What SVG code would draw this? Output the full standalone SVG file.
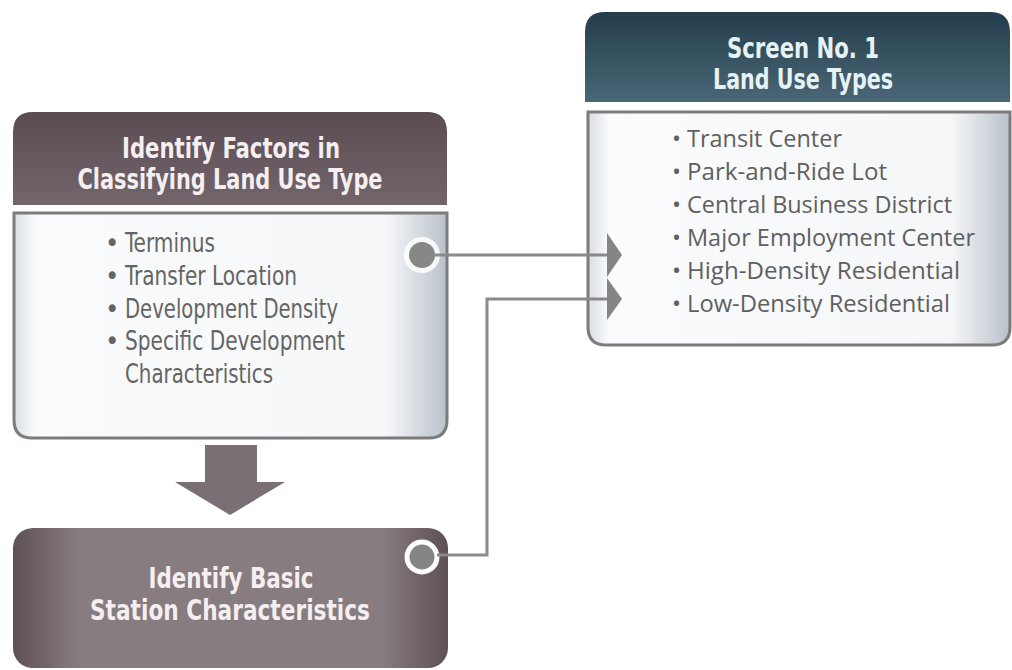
<svg xmlns="http://www.w3.org/2000/svg" width="1012" height="670" viewBox="0 0 1012 670">
  <defs>
    <linearGradient id="plumHead" x1="0" y1="0" x2="0" y2="1">
      <stop offset="0" stop-color="#5a4c52"/>
      <stop offset="1" stop-color="#72656b"/>
    </linearGradient>
    <linearGradient id="slateHead" x1="0" y1="0" x2="0" y2="1">
      <stop offset="0" stop-color="#243d4b"/>
      <stop offset="1" stop-color="#4a6777"/>
    </linearGradient>
    <linearGradient id="bodyFill" x1="0" y1="0" x2="1" y2="0">
      <stop offset="0" stop-color="#d9dee4"/>
      <stop offset="0.05" stop-color="#fafbfc"/>
      <stop offset="0.86" stop-color="#f6f7f9"/>
      <stop offset="1" stop-color="#b9c1ca"/>
    </linearGradient>
    <linearGradient id="plumBar" x1="0" y1="0" x2="1" y2="0">
      <stop offset="0" stop-color="#5d5056"/>
      <stop offset="0.15" stop-color="#877c80"/>
      <stop offset="0.85" stop-color="#877c80"/>
      <stop offset="1" stop-color="#5d5056"/>
    </linearGradient>
    <style>
      .head { font-family: 'Liberation Sans Narrow', 'DejaVu Sans Condensed', 'Liberation Sans', sans-serif; font-weight: bold; font-size: 28px; text-anchor: middle; }
      .plumText { fill: #f5eff1; }
      .slateText { fill: #e6f2f5; }
      .item { font-family: 'Liberation Sans Narrow', 'DejaVu Sans Condensed', 'Liberation Sans', sans-serif; font-size: 27px; fill: #646464; }
      .item2 { font-family: 'Open Sans', 'Noto Sans', 'Liberation Sans', sans-serif; font-size: 24px; fill: #5f5f5f; }
      .bodyBox { fill: url(#bodyFill); stroke: #7c7c7c; stroke-width: 3; }
      .wire { fill: none; stroke: #8a8a8a; stroke-width: 3; }
      .tip { fill: #858585; }
    </style>
  </defs>

  <!-- Factors box -->
  <g id="factors">
    <path d="M13,205 V132 Q13,112 33,112 H427 Q447,112 447,132 V205 Z" fill="url(#plumHead)"/>
    <text class="head plumText" x="231" y="158" textLength="218" lengthAdjust="spacingAndGlyphs">Identify Factors in</text>
    <text class="head plumText" x="230" y="189" textLength="305" lengthAdjust="spacingAndGlyphs">Classifying Land Use Type</text>
    <path class="bodyBox" d="M14,213 H447 V420 Q447,438 429,438 H32 Q14,438 14,420 Z"/>
    <text class="item" x="105" y="252">•</text>
    <text class="item" x="125" y="252" textLength="90" lengthAdjust="spacingAndGlyphs">Terminus</text>
    <text class="item" x="105" y="285">•</text>
    <text class="item" x="125" y="285" textLength="172" lengthAdjust="spacingAndGlyphs">Transfer Location</text>
    <text class="item" x="105" y="318">•</text>
    <text class="item" x="125" y="318" textLength="213" lengthAdjust="spacingAndGlyphs">Development Density</text>
    <text class="item" x="105" y="350">•</text>
    <text class="item" x="125" y="350" textLength="220" lengthAdjust="spacingAndGlyphs">Specific Development</text>
    <text class="item" x="125" y="383" textLength="148" lengthAdjust="spacingAndGlyphs">Characteristics</text>
    <circle cx="422" cy="255" r="18" fill="#ffffff" opacity="0.85"/>
    <circle cx="422" cy="255" r="13" fill="#878787"/>
  </g>

  <!-- Land use types box -->
  <g id="landUseTypes">
    <path d="M585,102 V32 Q585,12 605,12 H990 Q1010,12 1010,32 V102 Z" fill="url(#slateHead)"/>
    <text class="head slateText" x="803" y="58" textLength="152" lengthAdjust="spacingAndGlyphs">Screen No. 1</text>
    <text class="head slateText" x="803" y="89" textLength="180" lengthAdjust="spacingAndGlyphs">Land Use Types</text>
    <path class="bodyBox" d="M588,112 H1010 V327 Q1010,345 992,345 H606 Q588,345 588,327 Z"/>
    <text class="item2" x="672" y="147">•</text>
    <text class="item2" x="687" y="147" textLength="155" lengthAdjust="spacingAndGlyphs">Transit Center</text>
    <text class="item2" x="672" y="180">•</text>
    <text class="item2" x="687" y="180" textLength="200" lengthAdjust="spacingAndGlyphs">Park-and-Ride Lot</text>
    <text class="item2" x="672" y="213">•</text>
    <text class="item2" x="687" y="213" textLength="265" lengthAdjust="spacingAndGlyphs">Central Business District</text>
    <text class="item2" x="672" y="246">•</text>
    <text class="item2" x="687" y="246" textLength="288" lengthAdjust="spacingAndGlyphs">Major Employment Center</text>
    <text class="item2" x="672" y="279">•</text>
    <text class="item2" x="687" y="279" textLength="273" lengthAdjust="spacingAndGlyphs">High-Density Residential</text>
    <text class="item2" x="672" y="312">•</text>
    <text class="item2" x="687" y="312" textLength="263" lengthAdjust="spacingAndGlyphs">Low-Density Residential</text>
  </g>

  <!-- Basic station characteristics box -->
  <g id="basicStation">
    <rect x="13" y="528" width="435" height="140" rx="20" fill="url(#plumBar)"/>
    <text class="head plumText" x="231" y="588" textLength="165" lengthAdjust="spacingAndGlyphs">Identify Basic</text>
    <text class="head plumText" x="230" y="620" textLength="280" lengthAdjust="spacingAndGlyphs">Station Characteristics</text>
    <circle cx="422" cy="557" r="15" fill="#858585" stroke="#ffffff" stroke-width="5"/>
  </g>

  <!-- Connectors -->
  <g id="connectors">
    <polygon points="205,445 257,445 257,482 285,482 230,515 175,482 205,482" fill="#7a6f74"/>
    <line class="wire" x1="435" y1="255" x2="612" y2="255"/>
    <polyline class="wire" points="437,555 487,555 487,299 612,299"/>
    <polygon class="tip" points="607,233 622,255 607,277"/>
    <polygon class="tip" points="607,278 622,299 607,320"/>
  </g>
</svg>
